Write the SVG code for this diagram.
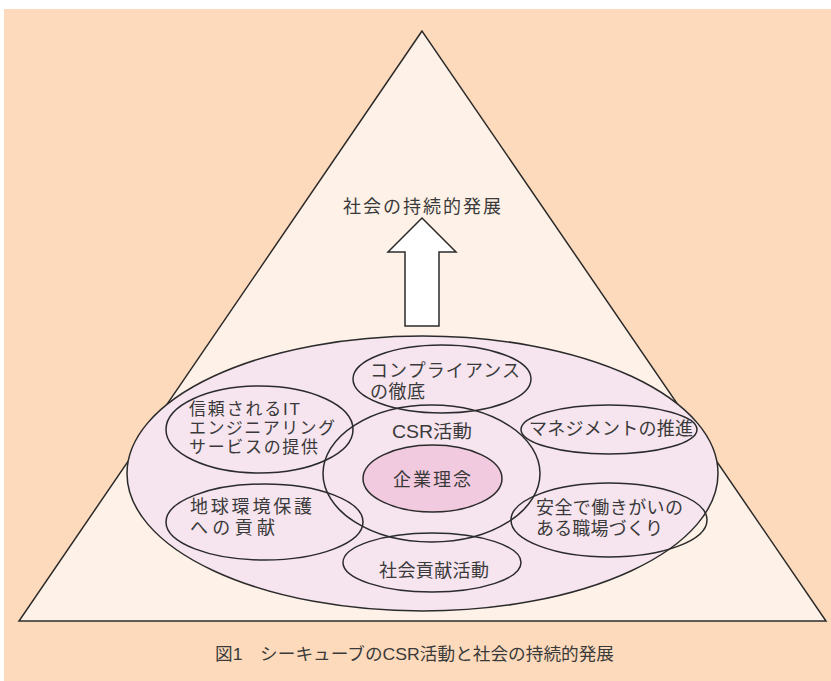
<svg xmlns="http://www.w3.org/2000/svg" width="831" height="681" viewBox="0 0 831 681">
<style>
.ln{stroke:#2b2b2b;stroke-width:1.5}
.o{fill:none;stroke:#2b2b2b;stroke-width:1.5}
.t{font-family:"Liberation Sans","Noto Sans CJK JP",sans-serif;font-size:18px;fill:#3a3a3a}
.s{font-size:17px}
</style>
<rect x="4" y="9" width="827" height="672" fill="#FDDABC"/>
<g id="pyramid">
<polygon points="422,31 19,621 826,621" fill="#FEF1E7" class="ln"/>
</g>
<g id="goal">
<text class="t" x="343" y="213" font-size="19" textLength="158" lengthAdjust="spacing">社会の持続的発展</text>
</g>
<g id="connectors">
<polygon points="422,218 456,252 439,252 439,326 405,326 405,252 388,252" fill="#FFFFFF" class="ln"/>
</g>
<g id="outer">
<ellipse cx="422.5" cy="473.5" rx="295.5" ry="137.5" fill="#F6E4EF" class="ln"/>
</g>
<g id="compliance">
<ellipse cx="442" cy="379" rx="89" ry="34" class="o"/>
<text class="t" x="370" y="377" textLength="150" lengthAdjust="spacing">コンプライアンス</text>
<text class="t" x="370" y="398" textLength="55" lengthAdjust="spacing">の徹底</text>
</g>
<g id="csr">
<ellipse cx="431.5" cy="473.5" rx="108.5" ry="68.5" class="o"/>
<text class="t" x="392" y="438" font-size="19" textLength="80" lengthAdjust="spacingAndGlyphs">CSR活動</text>
</g>
<g id="rinen">
<ellipse cx="432.5" cy="478.5" rx="69.5" ry="33.5" fill="#F2CADF" class="ln"/>
<text class="t" x="393" y="486" font-size="19" textLength="78" lengthAdjust="spacing">企業理念</text>
</g>
<g id="it">
<ellipse cx="259.5" cy="429.5" rx="93.5" ry="43.5" class="o"/>
<text class="t s" x="189" y="415" textLength="111" lengthAdjust="spacing">信頼されるIT</text>
<text class="t s" x="189" y="434" textLength="146" lengthAdjust="spacing">エンジニアリング</text>
<text class="t s" x="189" y="453" textLength="129" lengthAdjust="spacing">サービスの提供</text>
</g>
<g id="env">
<ellipse cx="264.5" cy="522" rx="98.5" ry="38" class="o"/>
<text class="t" x="190" y="513" textLength="122" lengthAdjust="spacing">地球環境保護</text>
<text class="t" x="190" y="534" textLength="85" lengthAdjust="spacing">への貢献</text>
</g>
<g id="mgmt">
<ellipse cx="609" cy="429.5" rx="88" ry="24.5" class="o"/>
<text class="t" x="529" y="435" textLength="164" lengthAdjust="spacing">マネジメントの推進</text>
</g>
<g id="work">
<ellipse cx="609" cy="520" rx="98" ry="37" class="o"/>
<text class="t" x="536" y="514" textLength="147" lengthAdjust="spacing">安全で働きがいの</text>
<text class="t" x="536" y="535" textLength="127" lengthAdjust="spacing">ある職場づくり</text>
</g>
<g id="social">
<ellipse cx="432" cy="562.5" rx="89" ry="29.5" class="o"/>
<text class="t" x="379" y="577" textLength="110" lengthAdjust="spacing">社会貢献活動</text>
</g>
<g id="caption">
<text class="t s" x="215" y="660" textLength="399" lengthAdjust="spacingAndGlyphs">図1　シーキューブのCSR活動と社会の持続的発展</text>
</g>
</svg>
